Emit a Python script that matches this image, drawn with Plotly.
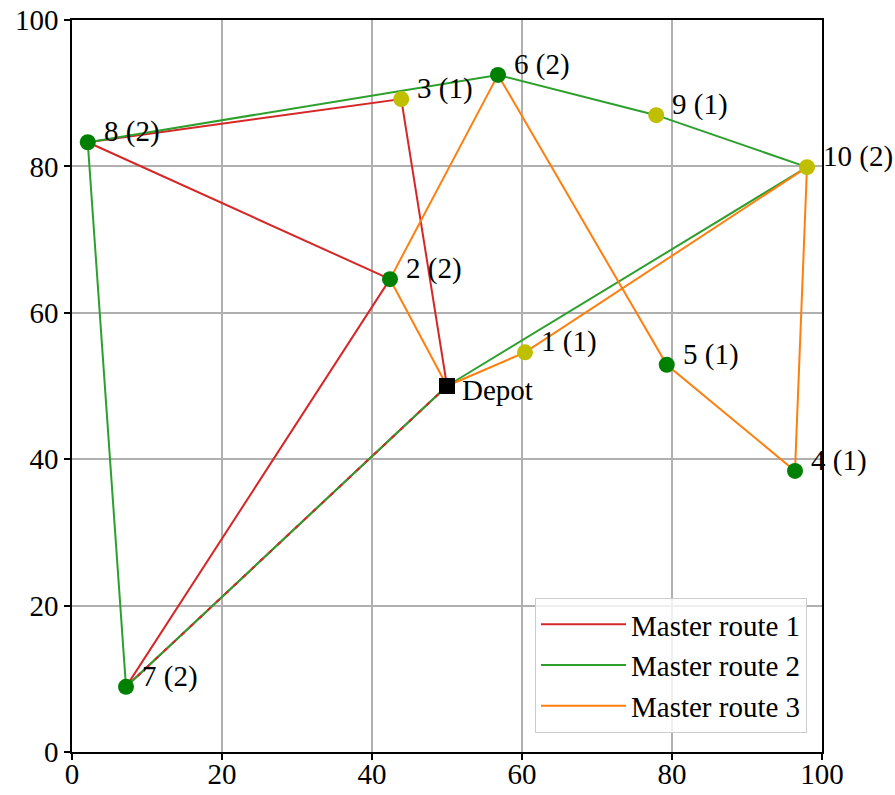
import plotly.graph_objects as go

# Node data (index 0 = depot)
node_ids = [0, 1, 2, 3, 4, 5, 6, 7, 8, 9, 10]
node_x = [50.0, 60.4, 42.4, 43.9, 96.4, 79.3, 56.8, 7.2, 2.1, 77.9, 98.0]
node_y = [50.0, 54.6, 64.6, 89.2, 38.4, 52.9, 92.5, 8.9, 83.3, 87.0, 79.9]
node_demand = [0, 1, 2, 1, 1, 1, 2, 2, 2, 1, 2]
node_color = ["k", "y", "g", "y", "g", "g", "g", "g", "g", "y", "y"]

route_names = ["Master route 1", "Master route 2", "Master route 3"]
route_colors = ["#d62728", "#2ca02c", "#ff7f0e"]
routes = [
    [0, 3, 8, 2, 7, 0],
    [0, 10, 9, 6, 8, 7, 0],
    [0, 1, 10, 4, 5, 6, 2, 0],
]

COLOR_MAP = {"y": "#bfbf00", "g": "#008000", "k": "black"}
FONT = "Liberation Serif"
FS = 29
fig = go.Figure()

def edges(r):
    return {frozenset((r[i], r[i + 1])) for i in range(len(r) - 1)}

route_edges = [edges(r) for r in routes]

for k, r in enumerate(routes):
    fig.add_trace(go.Scatter(
        x=[node_x[n] for n in r], y=[node_y[n] for n in r],
        mode="lines", name=route_names[k],
        line=dict(color=route_colors[k], width=2),
        hoverinfo="skip",
    ))

# overlay dashed segments for edges shared with a later-drawn route
for k, r in enumerate(routes):
    for j in range(k + 1, len(routes)):
        for e in route_edges[k] & route_edges[j]:
            a, b = tuple(e)
            fig.add_trace(go.Scatter(
                x=[node_x[a], node_x[b]], y=[node_y[a], node_y[b]],
                mode="lines", showlegend=False,
                line=dict(color=route_colors[k], width=2, dash="4px,8px"),
                hoverinfo="skip",
            ))

# customers
cust = [i for i in node_ids if i != 0]
fig.add_trace(go.Scatter(
    x=[node_x[i] for i in cust], y=[node_y[i] for i in cust],
    mode="markers", showlegend=False,
    marker=dict(size=16, color=[COLOR_MAP[node_color[i]] for i in cust], line=dict(width=0)),
))
fig.add_trace(go.Scatter(
    x=[node_x[0]], y=[node_y[0]], mode="markers", showlegend=False,
    marker=dict(size=16, symbol="square", color=COLOR_MAP[node_color[0]], line=dict(width=0)),
))

for i in cust:
    fig.add_annotation(
        x=node_x[i], y=node_y[i], text=f"{i} ({node_demand[i]})",
        showarrow=False, xanchor="left", yanchor="bottom",
        xshift=14, yshift=-8, font=dict(family=FONT, size=FS, color="black"),
    )
fig.add_annotation(
    x=node_x[0], y=node_y[0], text="Depot",
    showarrow=False, xanchor="left", yanchor="top",
    xshift=13, yshift=14, font=dict(family=FONT, size=FS, color="black"),
)

axis_common = dict(
    range=[0, 100], tickvals=[0, 20, 40, 60, 80, 100],
    showgrid=True, gridcolor="#b0b0b0", gridwidth=1.5,
    showline=True, linecolor="black", linewidth=1.5, mirror=True,
    ticks="outside", ticklen=6, tickwidth=1.5, tickcolor="black",
    zeroline=False, automargin=False,
    tickfont=dict(family=FONT, size=FS, color="black"),
)
fig.update_xaxes(**axis_common, ticklabelstandoff=-11)
fig.update_yaxes(**axis_common)

fig.update_layout(
    width=895, height=795,
    margin=dict(l=72, r=73, t=20, b=43, autoexpand=False),
    plot_bgcolor="white", paper_bgcolor="white",
    font=dict(family=FONT, size=FS, color="black"),
    legend=dict(
        x=0.98, y=0.026, xanchor="right", yanchor="bottom",
        bgcolor="rgba(255,255,255,0.8)", bordercolor="#cccccc", borderwidth=1,
        font=dict(family=FONT, size=FS, color="black"),
        tracegroupgap=0, itemwidth=85,
    ),
)

fig.write_html("out.html")
